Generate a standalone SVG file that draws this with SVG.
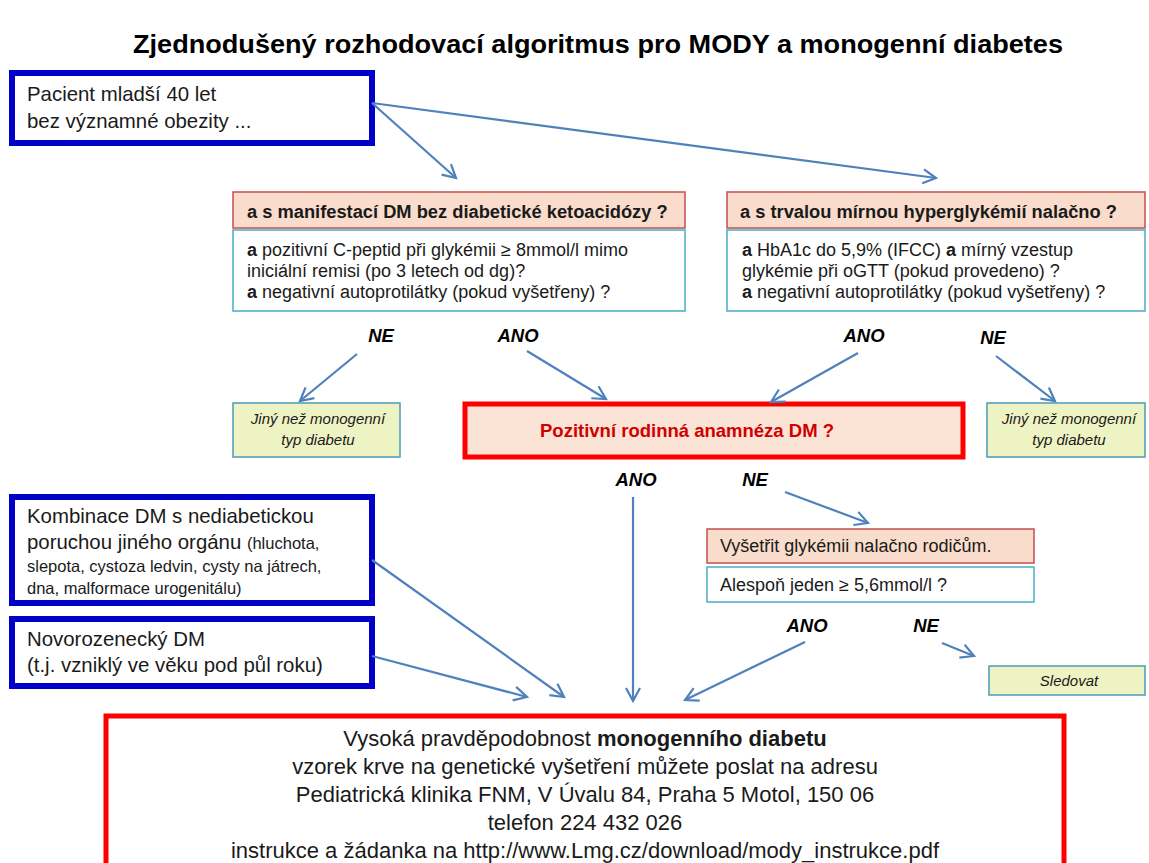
<svg xmlns="http://www.w3.org/2000/svg" width="1149" height="863" viewBox="0 0 1149 863">
<style>
.t{font-family:"Liberation Sans",Arial,sans-serif;fill:#1a1a1a}
.title{font-size:25px;font-weight:bold;fill:#000}
.blue{fill:#fff;stroke:#0000C8;stroke-width:6}
.hdr{fill:#F9DCCB;stroke:#C0504D;stroke-width:1.5}
.body{fill:#fff;stroke:#4BACC6;stroke-width:1.5}
.green{fill:#EEF3C4;stroke:#4B9CB8;stroke-width:1.5}
.red{stroke:#FF0000;stroke-width:5}
.lbl{font-size:18.5px;font-weight:bold;font-style:italic;fill:#000}
.h{font-size:18.3px;font-weight:bold}
.b{font-size:18px}
.g{font-size:15px;font-style:italic}
.n{font-size:20.4px}
.s{font-size:16.5px}
.r{font-size:22px}
.conn line{stroke:#4F81BD;stroke-width:2.2;marker-end:url(#ah)}
</style>
<defs>
<marker id="ah" markerUnits="userSpaceOnUse" markerWidth="18" markerHeight="18" refX="15" refY="8" orient="auto">
<path d="M2,1 L15,8 L2,15" fill="none" stroke="#4F81BD" stroke-width="2.2"/>
</marker>
</defs>
<rect width="1149" height="863" fill="#fff"/>
<text class="t title" x="598" y="53" text-anchor="middle" textLength="930" lengthAdjust="spacingAndGlyphs">Zjednodušený rozhodovací algoritmus pro MODY a monogenní diabetes</text>

<g id="patient">
<rect class="blue" x="12" y="73" width="360" height="70"/>
<text class="t n" x="27" y="101">Pacient mladší 40 let</text>
<text class="t n" x="27" y="128">bez významné obezity ...</text>
</g>

<g id="manifest">
<rect class="hdr" x="233" y="192" width="452" height="36"/>
<text class="t h" x="247" y="218">a s manifestací DM bez diabetické ketoacidózy ?</text>
<rect class="body" x="233" y="230" width="452" height="81"/>
<text class="t b" x="247" y="256"><tspan font-weight="bold">a</tspan> pozitivní C-peptid při glykémii ≥ 8mmol/l mimo</text>
<text class="t b" x="247" y="277">iniciální remisi (po 3 letech od dg)?</text>
<text class="t b" x="247" y="298"><tspan font-weight="bold">a</tspan> negativní autoprotilátky (pokud vyšetřeny) ?</text>
</g>

<g id="hyper">
<rect class="hdr" x="727" y="192" width="418" height="36"/>
<text class="t h" x="740" y="218">a s trvalou mírnou hyperglykémií nalačno ?</text>
<rect class="body" x="727" y="230" width="418" height="81"/>
<text class="t b" x="742" y="256"><tspan font-weight="bold">a</tspan> HbA1c do 5,9% (IFCC) <tspan font-weight="bold">a</tspan> mírný vzestup</text>
<text class="t b" x="742" y="277">glykémie při oGTT (pokud provedeno) ?</text>
<text class="t b" x="742" y="298"><tspan font-weight="bold">a</tspan> negativní autoprotilátky (pokud vyšetřeny) ?</text>
</g>

<g id="other1">
<rect class="green" x="233" y="403" width="167" height="54"/>
<text class="t g" x="318" y="424" text-anchor="middle">Jiný než monogenní</text>
<text class="t g" x="318" y="445" text-anchor="middle">typ diabetu</text>
</g>

<g id="family">
<rect class="red" x="465" y="404" width="498" height="53" fill="#FBE3D6"/>
<text x="687" y="437" text-anchor="middle" font-family="Liberation Sans, Arial, sans-serif" font-size="18.5" font-weight="bold" fill="#D00000">Pozitivní rodinná anamnéza DM ?</text>
</g>

<g id="other2">
<rect class="green" x="987" y="403" width="158" height="54"/>
<text class="t g" x="1069" y="424" text-anchor="middle">Jiný než monogenní</text>
<text class="t g" x="1069" y="445" text-anchor="middle">typ diabetu</text>
</g>

<g id="combo">
<rect class="blue" x="12" y="497" width="360" height="106"/>
<text class="t n" x="27" y="523">Kombinace DM s nediabetickou</text>
<text class="t n" x="27" y="549">poruchou jiného orgánu <tspan class="s">(hluchota,</tspan></text>
<text class="t s" x="27" y="572">slepota, cystoza ledvin, cysty na játrech,</text>
<text class="t s" x="27" y="594">dna, malformace urogenitálu)</text>
</g>

<g id="neonatal">
<rect class="blue" x="12" y="619" width="360" height="67"/>
<text class="t n" x="27" y="646">Novorozenecký DM</text>
<text class="t n" x="27" y="672">(t.j. vzniklý ve věku pod půl roku)</text>
</g>

<g id="parents">
<rect class="hdr" x="707" y="529" width="327" height="34"/>
<text class="t b" x="720" y="552">Vyšetřit glykémii nalačno rodičům.</text>
<rect class="body" x="707" y="567" width="327" height="35"/>
<text class="t b" x="720" y="591">Alespoň jeden ≥ 5,6mmol/l ?</text>
</g>

<g id="watch">
<rect class="green" x="989" y="666" width="156" height="29"/>
<text class="t g" x="1069" y="686" text-anchor="middle" font-size="14.5">Sledovat</text>
</g>

<g id="result">
<rect class="red" x="106" y="716" width="958" height="152" fill="#fff"/>
<text class="t r" x="585" y="746" text-anchor="middle">Vysoká pravděpodobnost <tspan font-weight="bold">monogenního diabetu</tspan></text>
<text class="t r" x="585" y="774" text-anchor="middle">vzorek krve na genetické vyšetření můžete poslat na adresu</text>
<text class="t r" x="585" y="802" text-anchor="middle">Pediatrická klinika FNM, V Úvalu 84, Praha 5 Motol, 150 06</text>
<text class="t r" x="585" y="830" text-anchor="middle">telefon 224 432 026</text>
<text class="t r" x="585" y="858" text-anchor="middle">instrukce a žádanka na http://www.Lmg.cz/download/mody_instrukce.pdf</text>
</g>

<g id="labels">
<text class="t lbl" x="381" y="342" text-anchor="middle">NE</text>
<text class="t lbl" x="518" y="342" text-anchor="middle">ANO</text>
<text class="t lbl" x="864" y="342" text-anchor="middle">ANO</text>
<text class="t lbl" x="993" y="344" text-anchor="middle">NE</text>
<text class="t lbl" x="636" y="486" text-anchor="middle">ANO</text>
<text class="t lbl" x="755" y="486" text-anchor="middle">NE</text>
<text class="t lbl" x="807" y="632" text-anchor="middle">ANO</text>
<text class="t lbl" x="926" y="632" text-anchor="middle">NE</text>
</g>

<g id="connectors" class="conn">
<line x1="372" y1="103" x2="456" y2="178"/>
<line x1="372" y1="103" x2="936" y2="178"/>
<line x1="357" y1="354" x2="300" y2="401"/>
<line x1="527" y1="351" x2="606" y2="399"/>
<line x1="858" y1="353" x2="771" y2="402"/>
<line x1="996" y1="356" x2="1055" y2="401"/>
<line x1="633" y1="497" x2="633" y2="701"/>
<line x1="785" y1="492" x2="868" y2="523"/>
<line x1="372" y1="560" x2="564" y2="697"/>
<line x1="372" y1="656" x2="527" y2="697"/>
<line x1="805" y1="642" x2="685" y2="700"/>
<line x1="942" y1="643" x2="974" y2="656"/>
</g>
</svg>
